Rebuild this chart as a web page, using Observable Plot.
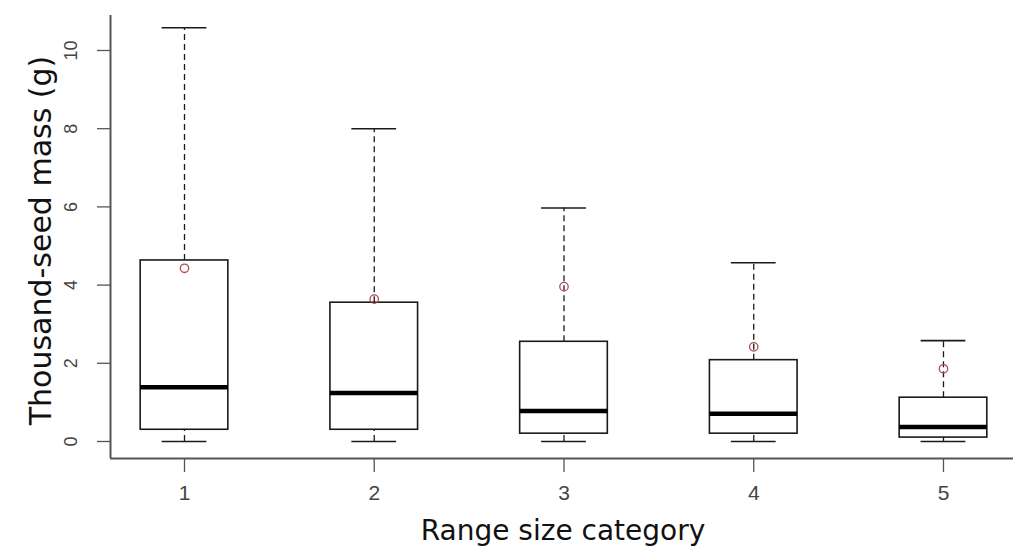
<!DOCTYPE html>
<html>
<head>
<meta charset="utf-8">
<script src="https://cdn.jsdelivr.net/npm/d3@7"></script>
<script src="https://cdn.jsdelivr.net/npm/@observablehq/plot@0.6"></script>
<style>
  html, body { margin: 0; padding: 0; background: #fff; }
  #chart svg { display: block; }
</style>
</head>
<body>
<div id="chart"></div>
<script>
// Data
const categories   = [1, 2, 3, 4, 5];
const whiskerHigh  = [10.58, 8.0, 5.97, 4.57, 2.58];
const upperQuart   = [4.63, 3.55, 2.55, 2.08, 1.12];
const medians      = [1.39, 1.24, 0.78, 0.71, 0.37];
const lowerQuart   = [0.30, 0.30, 0.20, 0.20, 0.10];
const whiskerLow   = [0, 0, 0, 0, 0];
const means        = [4.43, 3.64, 3.96, 2.42, 1.86];
const yTicks       = [0, 2, 4, 6, 8, 10];
const xTicks       = [1, 2, 3, 4, 5];
const xLabel = "Range size category";
const yLabel = "Thousand-seed mass (g)";

const rows = categories.map((c, i) => ({
  c, hi: whiskerHigh[i], q3: upperQuart[i], med: medians[i],
  q1: lowerQuart[i], lo: whiskerLow[i], mean: means[i]
}));

const BOX = 0.231;   // half box width (x units)
const CAP = 0.118;   // half whisker-cap width
const ink = "#1a1a1a";
const axisInk = "#555";
const xDomain = [0.61, 5.369];
const yDomain = [-0.435, 10.895];

const chart = Plot.plot({
  width: 1013,
  height: 555,
  marginLeft: 110,
  marginRight: 0,
  marginTop: 15,
  marginBottom: 97,
  style: { background: "#fff", fontFamily: "'Liberation Sans', Arial, sans-serif" },
  x: { type: "linear", domain: xDomain },
  y: { type: "linear", domain: yDomain },
  marks: [
    // axis lines (L-shaped frame)
    Plot.ruleX([xDomain[0]], { stroke: axisInk, strokeWidth: 2 }),
    Plot.ruleY([yDomain[0]], { stroke: axisInk, strokeWidth: 2 }),
    // y ticks
    Plot.axisY(yTicks, { tickSize: 13, tickFormat: () => "", label: null, stroke: axisInk, strokeWidth: 1.3 }),
    Plot.text(yTicks, {
      y: d => d, frameAnchor: "left", rotate: -90, dx: -39,
      text: d => String(d), fontSize: 18, fill: "#444", lineAnchor: "middle", textAnchor: "middle"
    }),
    // x ticks
    Plot.axisX(xTicks, {
      tickSize: 14, tickPadding: 13, fontSize: 21, label: null,
      stroke: axisInk, strokeWidth: 1.3, color: "#444", tickFormat: d => String(d)
    }),
    // whiskers (dashed)
    Plot.ruleX(rows, { x: "c", y1: "q3", y2: "hi", stroke: ink, strokeWidth: 1.3, strokeDasharray: "6,4" }),
    Plot.ruleX(rows, { x: "c", y1: "lo", y2: "q1", stroke: ink, strokeWidth: 1.3, strokeDasharray: "6,4" }),
    // whisker caps
    Plot.ruleY(rows, { y: "hi", x1: d => d.c - CAP, x2: d => d.c + CAP, stroke: ink, strokeWidth: 1.6 }),
    Plot.ruleY(rows, { y: "lo", x1: d => d.c - CAP, x2: d => d.c + CAP, stroke: ink, strokeWidth: 1.6 }),
    // boxes
    Plot.rect(rows, {
      x1: d => d.c - BOX, x2: d => d.c + BOX, y1: "q1", y2: "q3",
      fill: "none", stroke: ink, strokeWidth: 1.6
    }),
    // medians
    Plot.ruleY(rows, { y: "med", x1: d => d.c - BOX, x2: d => d.c + BOX, stroke: "#000", strokeWidth: 4.5 }),
    // means
    Plot.dot(rows, { x: "c", y: "mean", r: 4.2, stroke: "#b24a55", strokeWidth: 1.3, fill: "none" }),
    // axis titles
    Plot.text([yLabel], {
      frameAnchor: "left", rotate: -90, dx: -69, dy: 3.5, text: d => d,
      fontSize: 30, fill: "#111", lineAnchor: "middle", textAnchor: "middle",
      fontFamily: "'DejaVu Sans', sans-serif"
    }),
    Plot.text([xLabel], {
      frameAnchor: "bottom", dy: 73, dx: 1, text: d => d,
      fontSize: 28, fill: "#111", lineAnchor: "middle", textAnchor: "middle",
      fontFamily: "'DejaVu Sans', sans-serif"
    })
  ]
});

document.getElementById("chart").appendChild(chart);
</script>
</body>
</html>
